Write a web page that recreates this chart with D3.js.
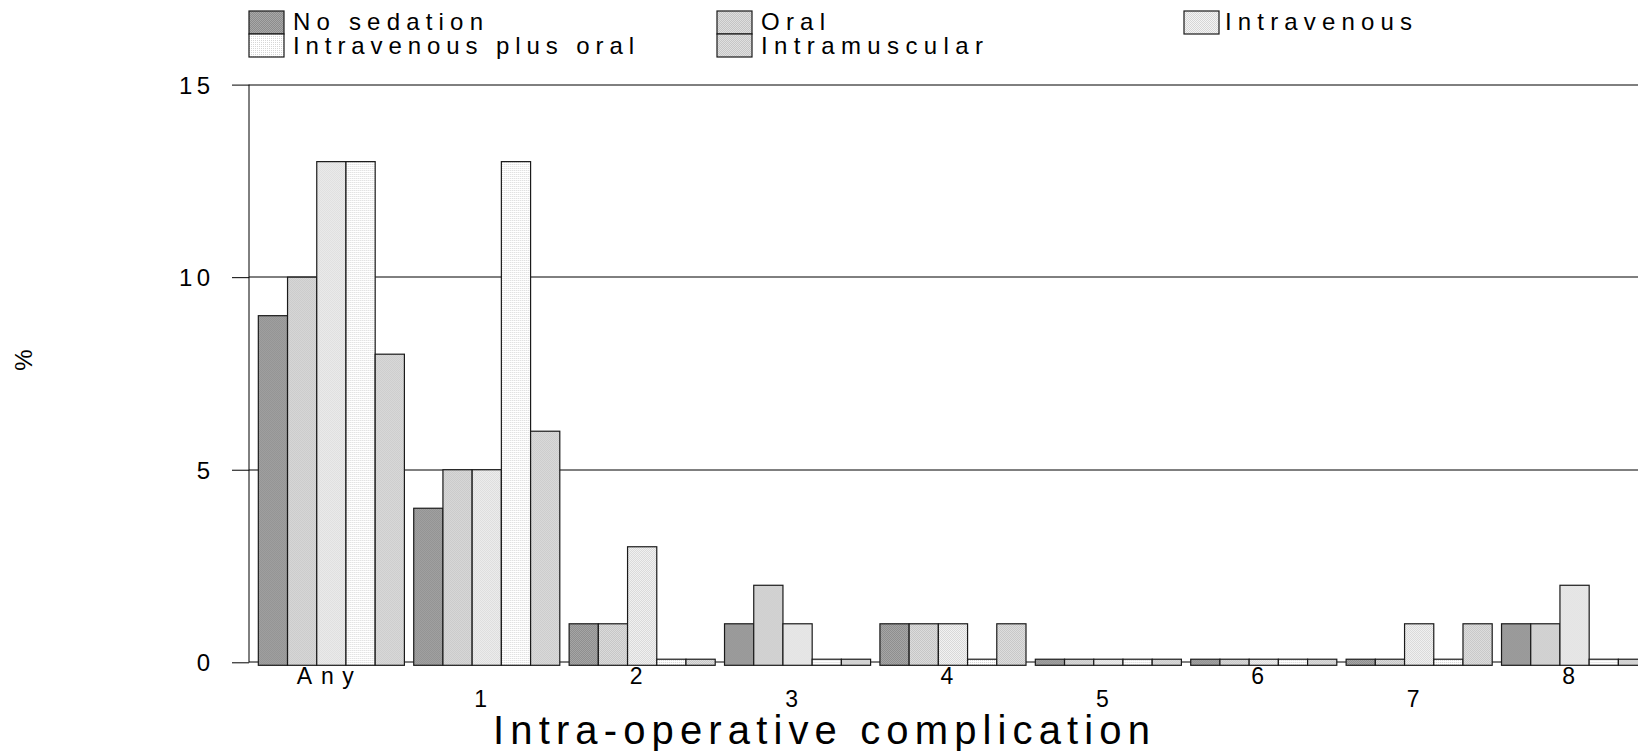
<!DOCTYPE html>
<html>
<head>
<meta charset="utf-8">
<script src="https://cdn.jsdelivr.net/npm/d3@7"></script>
<style>
  html, body { margin: 0; padding: 0; background: #fff; }
  svg { display: block; font-family: "Liberation Sans", Arial, sans-serif; }
</style>
</head>
<body>
<svg id="chart" width="1638" height="751"></svg>
<script>
// ---- data ----
const categories = ["Any", "1", "2", "3", "4", "5", "6", "7", "8"];
const seriesNames = ["No sedation", "Oral", "Intravenous", "Intravenous plus oral", "Intramuscular"];
const noSedation    = [9, 4, 1, 1, 1, 0.08, 0.08, 0.08, 1];
const oral          = [10, 5, 1, 2, 1, 0.08, 0.08, 0.08, 1];
const intravenous   = [13, 5, 3, 1, 1, 0.08, 0.08, 1, 2];
const ivPlusOral    = [13, 13, 0.08, 0.08, 0.08, 0.08, 0.08, 0.08, 0.08];
const intramuscular = [8, 6, 0.08, 0.08, 1, 0.08, 0.08, 1, 0.08];
const yTicks = [0, 5, 10, 15];
const yLabel = "%";
const xTitle = "Intra-operative complication";

const seriesValues = [noSedation, oral, intravenous, ivPlusOral, intramuscular];

// ---- setup ----
const W = 1638, H = 751;
const svg = d3.select("#chart");
const defs = svg.append("defs");

// dithered pattern fills (base colour, dot colour)
const patternSpecs = [
  { id: "p0", base: "#a8a8a8", dot: "#8c8c8c" },
  { id: "p1", base: "#dedede", dot: "#c4c4c4" },
  { id: "p2", base: "#f4f4f4", dot: "#d6d6d6" },
  { id: "p3", base: "#ffffff", dot: "#d6d6d6", sparse: true },
  { id: "p4", base: "#e0e0e0", dot: "#c6c6c6" }
];
patternSpecs.forEach(p => {
  const pat = defs.append("pattern").attr("id", p.id)
    .attr("patternUnits", "userSpaceOnUse")
    .attr("width", 2).attr("height", 2);
  pat.append("rect").attr("width", 2).attr("height", 2).attr("fill", p.base);
  pat.append("rect").attr("width", 1).attr("height", 1).attr("fill", p.dot)
    .attr("shape-rendering", "crispEdges");
  if (!p.sparse) {
    pat.append("rect").attr("x", 1).attr("y", 1).attr("width", 1).attr("height", 1)
      .attr("fill", p.dot).attr("shape-rendering", "crispEdges");
  }
});

// ---- scales ----
const plotLeft = 249;
const y = d3.scaleLinear().domain([0, 15]).range([662.3, 84.6]);
const step = 155.4;
const x0 = d3.scaleBand().domain(categories)
  .range([plotLeft, plotLeft + step * 9.06])
  .paddingInner(0.06).paddingOuter(0.06);
const x1 = d3.scaleBand().domain(seriesNames).range([0, x0.bandwidth()]).padding(0);

// ---- gridlines ----
svg.append("g").selectAll("line").data(yTicks).join("line")
  .attr("x1", plotLeft).attr("x2", W)
  .attr("y1", d => Math.round(y(d))).attr("y2", d => Math.round(y(d)))
  .attr("stroke", "#000").attr("stroke-width", 1);

// ---- y axis ----
const yAxis = svg.append("g").attr("transform", `translate(${plotLeft},0)`)
  .call(d3.axisLeft(y).tickValues(yTicks).tickSize(17).tickPadding(22).tickFormat(d3.format("d")));
yAxis.select(".domain").attr("stroke", "#000").attr("d", `M0,${y(15)}V${y(0)}`);
yAxis.selectAll(".tick line").attr("stroke", "#000");
yAxis.selectAll(".tick text")
  .attr("font-family", "Liberation Sans, Arial, sans-serif")
  .attr("font-size", 24).attr("fill", "#000").attr("dy", "0.36em")
  .each(function(d) {
    const s = String(d);
    if (s.length > 1) d3.select(this).attr("textLength", 31).attr("lengthAdjust", "spacing");
  });

// ---- bars ----
const groups = svg.append("g").selectAll("g").data(categories).join("g")
  .attr("transform", c => `translate(${x0(c)},0)`);
groups.selectAll("rect")
  .data((c, i) => seriesNames.map((s, k) => ({ s, k, v: seriesValues[k][i] })))
  .join("rect")
  .attr("x", d => x1(d.s))
  .attr("width", x1.bandwidth())
  .attr("y", d => y(d.v))
  .attr("height", d => y(0) - y(d.v) + 3)
  .attr("fill", d => `url(#p${d.k})`)
  .attr("stroke", "#1a1a1a").attr("stroke-width", 1.2);

// ---- x axis labels (staggered) ----
const xAxis = svg.append("g").attr("transform", `translate(0,${y(0)})`)
  .call(d3.axisBottom(x0).tickSize(0).tickPadding(0));
xAxis.select(".domain").remove();
xAxis.selectAll(".tick text")
  .attr("font-family", "Liberation Sans, Arial, sans-serif")
  .attr("font-size", 23).attr("fill", "#000")
  .attr("x", -6)
  .attr("dy", null)
  .attr("y", (d, i) => (i % 2 === 0 ? 21.5 : 45))
  .each(function(d) {
    if (d.length > 1) d3.select(this).attr("textLength", 57).attr("lengthAdjust", "spacing");
  });

// ---- axis titles ----
svg.append("text")
  .attr("transform", "translate(32,360) rotate(-90)")
  .attr("text-anchor", "middle")
  .attr("font-size", 24).attr("fill", "#000")
  .text(yLabel);

svg.append("text")
  .attr("x", 493).attr("y", 744)
  .attr("font-size", 40).attr("fill", "#000")
  .attr("textLength", 657).attr("lengthAdjust", "spacing")
  .text(xTitle);

// ---- legend ----
const legendItems = [
  { k: 0, x: 249, row: 0, w: 190, tx: 44 },
  { k: 1, x: 717, row: 0, w: 64, tx: 44 },
  { k: 2, x: 1184, row: 0, w: 187, tx: 41 },
  { k: 3, x: 249, row: 1, w: 341, tx: 44 },
  { k: 4, x: 717, row: 1, w: 222, tx: 44 }
];
const rowTop = [11, 34];
const rowBase = [29.5, 54];
const lg = svg.append("g").selectAll("g").data(legendItems).join("g")
  .attr("transform", d => `translate(${d.x},0)`);
lg.append("rect").attr("y", d => rowTop[d.row]).attr("width", 35).attr("height", 23)
  .attr("fill", d => `url(#p${d.k})`).attr("stroke", "#1a1a1a").attr("stroke-width", 1.2);
lg.append("text").attr("x", d => d.tx).attr("y", d => rowBase[d.row])
  .attr("font-size", 24).attr("fill", "#000")
  .attr("textLength", d => d.w).attr("lengthAdjust", "spacing")
  .text(d => seriesNames[d.k]);
</script>
</body>
</html>
